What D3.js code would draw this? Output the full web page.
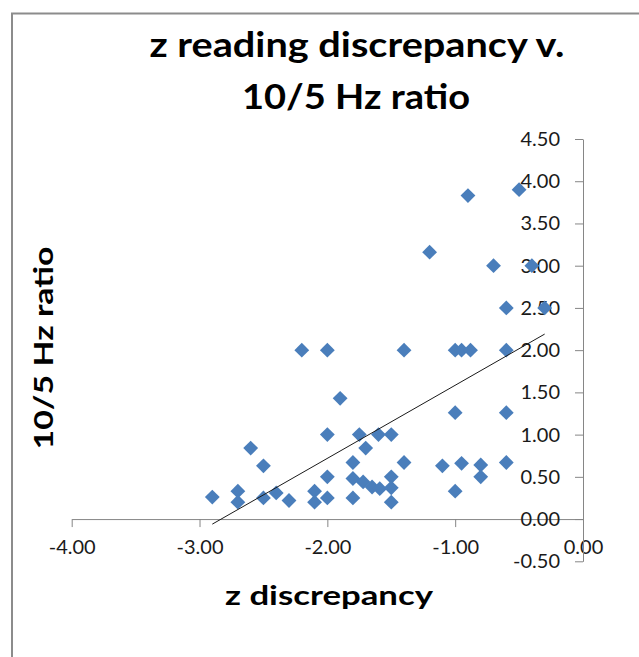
<!DOCTYPE html>
<html>
<head>
<meta charset="utf-8">
<script src="https://cdn.jsdelivr.net/npm/d3@7"></script>
<style>
  html, body { margin: 0; padding: 0; background: #fff; }
  svg { display: block; font-family: "Lato", "Open Sans", sans-serif; }
</style>
</head>
<body>
<div id="chart"></div>
<script>
/** Data: z discrepancy (x) and 10/5 Hz ratio (y) */
const zDiscrepancy = [
  -0.90, -0.50, -1.20, -0.70, -0.40, -0.60, -0.30,
  -2.20, -2.00, -1.40, -1.00, -0.95, -0.88, -0.60,
  -1.90, -1.00, -0.60,
  -2.00, -1.75, -1.60, -1.50,
  -2.60, -1.70,
  -2.50, -1.80, -1.40, -1.10, -0.95, -0.80, -0.60,
  -2.00, -1.80, -1.72, -1.65, -1.59, -1.50, -1.50, -0.80, -1.00,
  -2.90, -2.70, -2.70, -2.50, -2.40, -2.30, -2.10, -2.10, -2.00, -1.80, -1.50
];
const hzRatio = [
  3.83, 3.90, 3.16, 3.00, 3.00, 2.50, 2.50,
  2.00, 2.00, 2.00, 2.00, 2.00, 2.00, 2.00,
  1.43, 1.26, 1.26,
  1.00, 1.00, 1.00, 1.00,
  0.84, 0.84,
  0.63, 0.67, 0.67, 0.63, 0.66, 0.64, 0.67,
  0.50, 0.48, 0.44, 0.38, 0.36, 0.50, 0.37, 0.50, 0.33,
  0.26, 0.33, 0.20, 0.25, 0.31, 0.22, 0.33, 0.20, 0.25, 0.25, 0.20
];

/** Trendline end points */
const trendX = [-2.90, -0.30];
const trendY = [-0.06, 2.19];

/** Tick values */
const xTicks = [-4, -3, -2, -1, 0];
const yTicks = [-0.5, 0, 0.5, 1, 1.5, 2, 2.5, 3, 3.5, 4, 4.5];

const points = zDiscrepancy.map((x, i) => ({x: x, y: hzRatio[i]}));
const trend = trendX.map((x, i) => ({x: x, y: trendY[i]}));

// plain hyphen for negatives, like the original
const fmt = d3.formatLocale({decimal: ".", thousands: ",", grouping: [3], currency: ["", ""], minus: "-"}).format(".2f");

const w = 639;
const h = 657;

const svg = d3.select("#chart")
  .append("svg")
  .attr("width", w)
  .attr("height", h);

/** Chart frame (runs off the right and bottom) */
svg.append("rect")
  .attr("x", 12)
  .attr("y", 13.5)
  .attr("width", 700)
  .attr("height", 700)
  .attr("fill", "#fff")
  .attr("stroke", "#8c8c8c")
  .attr("stroke-width", 2);

/** Scales */
const xScale = d3.scaleLinear().domain([-4, 0]).range([71.7, 583]);
const yScale = d3.scaleLinear().domain([-0.5, 4.5]).range([561.3, 139]);

const axisColor = "#868686";

/** x axis sits at y = 0 */
const xAxis = svg.append("g")
  .attr("id", "x-axis")
  .attr("transform", "translate(0," + yScale(0) + ")")
  .call(d3.axisBottom(xScale)
    .tickValues(xTicks)
    .tickFormat(fmt)
    .tickSizeInner(8)
    .tickSizeOuter(0)
    .tickPadding(13));
xAxis.select(".domain").attr("stroke", axisColor);
xAxis.selectAll(".tick line").attr("stroke", axisColor);
xAxis.selectAll(".tick text")
  .attr("fill", "#1a1a1a")
  .style("font-size", "20px")
  .style("font-family", "Lato");

/** y axis sits at x = 0, labels to its left */
const yAxis = svg.append("g")
  .attr("id", "y-axis")
  .attr("transform", "translate(" + xScale(0) + ",0)")
  .call(d3.axisLeft(yScale)
    .tickValues(yTicks)
    .tickFormat(fmt)
    .tickSizeInner(8)
    .tickSizeOuter(0)
    .tickPadding(15));
yAxis.select(".domain").attr("stroke", axisColor);
yAxis.selectAll(".tick line").attr("stroke", axisColor);
yAxis.selectAll(".tick text")
  .attr("fill", "#1a1a1a")
  .style("font-size", "20px")
  .style("font-family", "Lato");

/** Points as diamonds */
const diamond = d3.symbol().type(d3.symbolDiamond2).size(140);
svg.append("g")
  .attr("id", "points")
  .selectAll("path")
  .data(points)
  .enter()
  .append("path")
  .attr("d", diamond)
  .attr("transform", (d) => "translate(" + xScale(d.x) + "," + yScale(d.y) + ")")
  .attr("fill", "#4a7ebb");

/** Linear trendline */
svg.append("path")
  .datum(trend)
  .attr("fill", "none")
  .attr("stroke", "#1a1a1a")
  .attr("stroke-width", 1)
  .attr("d", d3.line().x((d) => xScale(d.x)).y((d) => yScale(d.y)));

/** Titles */
const title = svg.append("text")
  .attr("text-anchor", "middle")
  .attr("fill", "#000")
  .style("font-weight", "bold")
  .style("font-size", "34px");
title.append("tspan")
  .attr("x", 357)
  .attr("y", 57)
  .attr("textLength", 415)
  .attr("lengthAdjust", "spacingAndGlyphs")
  .text("z reading discrepancy v.");
title.append("tspan")
  .attr("x", 356)
  .attr("y", 109)
  .attr("textLength", 228)
  .attr("lengthAdjust", "spacingAndGlyphs")
  .text("10/5 Hz ratio");

svg.append("text")
  .attr("x", 329)
  .attr("y", 605)
  .attr("text-anchor", "middle")
  .attr("textLength", 208)
  .attr("lengthAdjust", "spacingAndGlyphs")
  .style("font-weight", "bold")
  .style("font-size", "27px")
  .text("z discrepancy");

svg.append("text")
  .attr("text-anchor", "middle")
  .attr("transform", "translate(53,348) rotate(-90)")
  .attr("textLength", 203)
  .attr("lengthAdjust", "spacingAndGlyphs")
  .style("font-weight", "bold")
  .style("font-size", "27px")
  .text("10/5 Hz ratio");
</script>
</body>
</html>
